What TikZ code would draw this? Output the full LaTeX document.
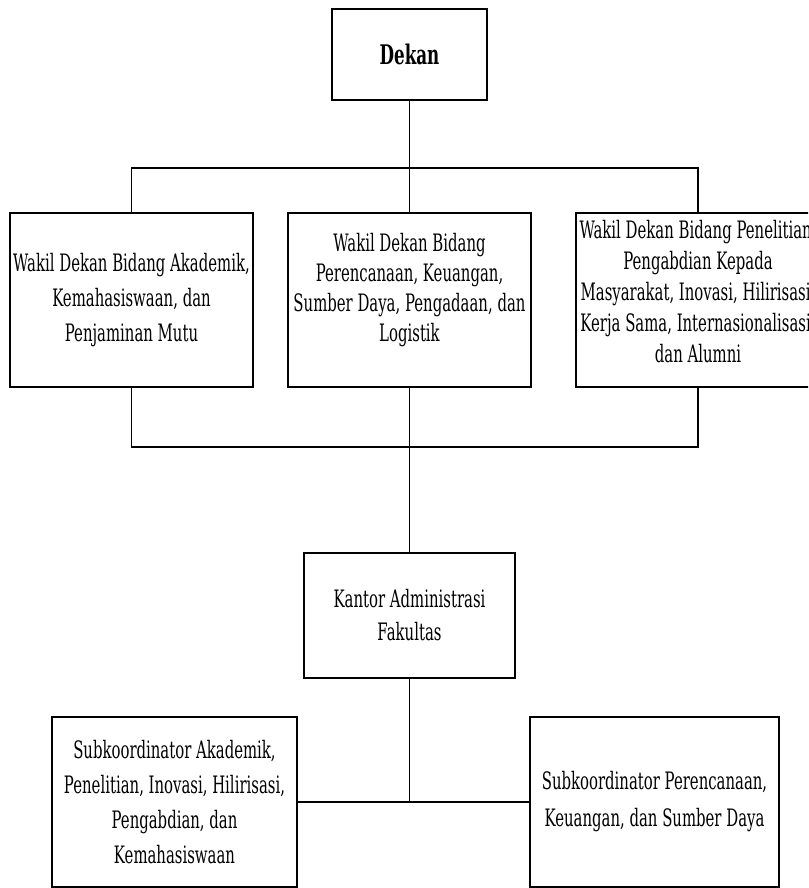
\documentclass[tikz,border=0pt]{standalone}
\usepackage{fontspec}
\setmainfont[FakeStretch=0.62]{DejaVu Serif}
\begin{document}
\begin{tikzpicture}[x=1pt,y=-1pt,
  box/.style={draw=black, line width=1.8pt, fill=white, align=center, inner sep=0pt,
    font=\fontsize{24}{33}\selectfont},
  link/.style={draw=black, line width=1.7pt}]
\useasboundingbox (0,0) rectangle (808,888);
\clip (0,0) rectangle (808,888);
\fill[white] (0,0) rectangle (808,888);
% nodes
\node[box, minimum width=155pt, minimum height=91pt, font=\fontsize{27}{33}\bfseries\selectfont] (dekan) at (409.5,54.5) {Dekan};
\node[box, minimum width=243pt, minimum height=174pt, font=\fontsize{24}{35}\selectfont] (w1) at (131.5,300) {Wakil Dekan Bidang Akademik,\\Kemahasiswaan, dan\\Penjaminan Mutu};
\node[box, minimum width=243pt, minimum height=174pt, font=\fontsize{24}{30}\selectfont] (w2) at (409.5,300) {Wakil Dekan Bidang\\Perencanaan, Keuangan,\\Sumber Daya, Pengadaan, dan\\Logistik\vphantom{g}\\[-14pt]\strut};
\node[box, minimum width=244pt, minimum height=174pt, font=\fontsize{24}{31}\selectfont] (w3) at (698,300) {Wakil Dekan Bidang Penelitian,\\Pengabdian Kepada\\Masyarakat, Inovasi, Hilirisasi,\\Kerja Sama, Internasionalisasi,\\dan Alumni\\[-24pt]\strut};
\node[box, minimum width=211pt, minimum height=125pt] (kantor) at (409.5,615.5) {Kantor Administrasi\\Fakultas};
\node[box, minimum width=245pt, minimum height=170pt, font=\fontsize{24}{35}\selectfont] (s1) at (174.5,802) {Subkoordinator Akademik,\\Penelitian, Inovasi, Hilirisasi,\\Pengabdian, dan\\Kemahasiswaan};
\node[box, minimum width=249pt, minimum height=170pt, font=\fontsize{24}{37}\selectfont] (s2) at (654.5,802) {Subkoordinator Perencanaan,\\Keuangan, dan Sumber Daya};
% connector junctions
\coordinate (top) at (409.5,168);
\coordinate (bot) at (409.5,447);
% connectors
\draw[link] (dekan.south) -- (w2.north);
\draw[link] (w1.north) |- (top) -| (w3.north);
\draw[link] (w1.south) |- (bot) -| (w3.south);
\draw[link] (w2.south) -- (kantor.north);
\draw[link] (kantor.south) -- (kantor.south |- s1.east);
\draw[link] (s1.east) -- (s2.west);
\end{tikzpicture}
\end{document}
